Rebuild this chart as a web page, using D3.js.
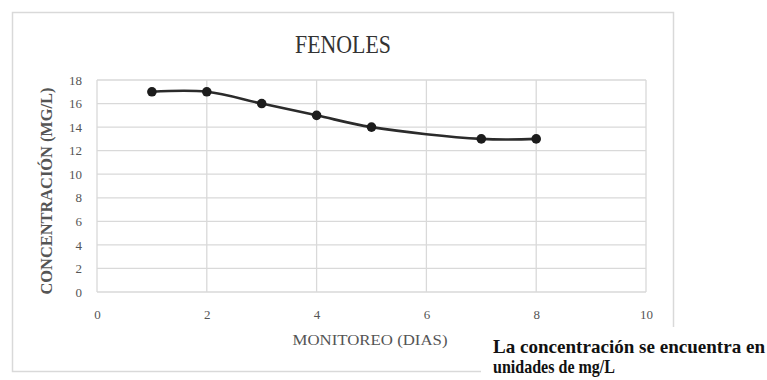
<!DOCTYPE html>
<html>
<head>
<meta charset="utf-8">
<script src="https://cdn.jsdelivr.net/npm/d3@7"></script>
<style>
  body { margin: 0; background: #fff; }
  svg { display: block; }
  svg text { font-family: "Liberation Serif", "DejaVu Serif", "Noto Serif", "Times New Roman", Times, serif; }
</style>
</head>
<body>
<div id="canvas"></div>
<script>
// data
const dias = [1, 2, 3, 4, 5, 7, 8];
const fenoles = [17, 17, 16, 15, 14, 13, 13];
const xTicks = [0, 2, 4, 6, 8, 10];
const yTicks = [0, 2, 4, 6, 8, 10, 12, 14, 16, 18];

const width = 767;
const height = 380;
const marginLeft = 97;
const marginRight = 121;   // plot ends at 646
const marginTop = 80;
const marginBottom = 88;   // plot bottom at 292

const gridColor = "#d9d9d9";

const x = d3.scaleLinear()
    .domain([0, 10])
    .range([marginLeft, width - marginRight]);

const y = d3.scaleLinear()
    .domain([0, 18])
    .range([height - marginBottom, marginTop]);

const svg = d3.select("#canvas")
    .append("svg")
    .attr("width", width)
    .attr("height", height)
    .attr("viewBox", [0, 0, width, height]);

// outer chart frame
svg.append("rect")
    .attr("x", 12.5)
    .attr("y", 12.5)
    .attr("width", 661)
    .attr("height", 359)
    .attr("fill", "#fff")
    .attr("stroke", gridColor)
    .attr("stroke-width", 1.5);

// horizontal grid
svg.append("g")
    .selectAll("line")
    .data(yTicks)
    .join("line")
        .attr("x1", x(0))
        .attr("x2", x(10))
        .attr("y1", d => y(d))
        .attr("y2", d => y(d))
        .attr("stroke", gridColor)
        .attr("stroke-width", 1.3);

// vertical grid
svg.append("g")
    .selectAll("line")
    .data(xTicks)
    .join("line")
        .attr("x1", d => x(d))
        .attr("x2", d => x(d))
        .attr("y1", y(0))
        .attr("y2", y(18))
        .attr("stroke", gridColor)
        .attr("stroke-width", 1.3);

// axes (labels only)
svg.append("g")
    .attr("transform", `translate(0,${y(0) + 15})`)
    .call(d3.axisBottom(x).tickValues(xTicks).tickSize(0))
    .call(g => g.attr("font-family", null))
    .call(g => g.select(".domain").remove())
    .call(g => g.selectAll("text")
        .attr("font-size", 13)
        .attr("fill", "#555"));

svg.append("g")
    .attr("transform", `translate(${x(0) - 15},0)`)
    .call(d3.axisLeft(y).tickValues(yTicks).tickSize(0).tickPadding(0))
    .call(g => g.attr("font-family", null))
    .call(g => g.select(".domain").remove())
    .call(g => g.selectAll("text")
        .attr("font-size", 13)
        .attr("fill", "#555"));

// smoothed line
const line = d3.line()
    .x((d, i) => x(dias[i]))
    .y(d => y(d))
    .curve(d3.curveCatmullRom.alpha(0.5));

svg.append("path")
    .datum(fenoles)
    .attr("fill", "none")
    .attr("stroke", "#2b2b2b")
    .attr("stroke-width", 2.6)
    .attr("d", line);

svg.append("g")
    .selectAll("circle")
    .data(fenoles)
    .join("circle")
        .attr("cx", (d, i) => x(dias[i]))
        .attr("cy", d => y(d))
        .attr("r", 4.8)
        .attr("fill", "#1c1c1c");

// title
svg.append("text")
    .attr("x", 343)
    .attr("y", 53)
    .attr("text-anchor", "middle")
    .attr("font-size", 26)
    .attr("fill", "#333")
    .attr("textLength", 96)
    .attr("lengthAdjust", "spacingAndGlyphs")
    .text("FENOLES");

// axis titles
svg.append("text")
    .attr("transform", "translate(52,191) rotate(-90)")
    .attr("text-anchor", "middle")
    .attr("font-weight", "bold")
    .attr("font-size", 17)
    .attr("fill", "#555")
    .attr("textLength", 207)
    .attr("lengthAdjust", "spacingAndGlyphs")
    .text("CONCENTRACIÓN (MG/L)");

svg.append("text")
    .attr("x", 370)
    .attr("y", 345)
    .attr("text-anchor", "middle")
    .attr("font-size", 15)
    .attr("fill", "#555")
    .attr("textLength", 155)
    .attr("lengthAdjust", "spacingAndGlyphs")
    .text("MONITOREO  (DIAS)");

// note box covering the frame corner
svg.append("rect")
    .attr("x", 481)
    .attr("y", 327)
    .attr("width", width - 481)
    .attr("height", height - 327)
    .attr("fill", "#fff");

const note = ["La concentración se encuentra en", "unidades de mg/L"];
const noteLen = [272, 122];
svg.append("g")
    .selectAll("text")
    .data(note)
    .join("text")
        .attr("x", 493)
        .attr("y", (d, i) => 353 + i * 20)
        .attr("font-weight", "bold")
        .attr("font-size", 19)
        .attr("fill", "#111")
        .attr("textLength", (d, i) => noteLen[i])
        .attr("lengthAdjust", "spacingAndGlyphs")
        .text(d => d);
</script>
</body>
</html>
